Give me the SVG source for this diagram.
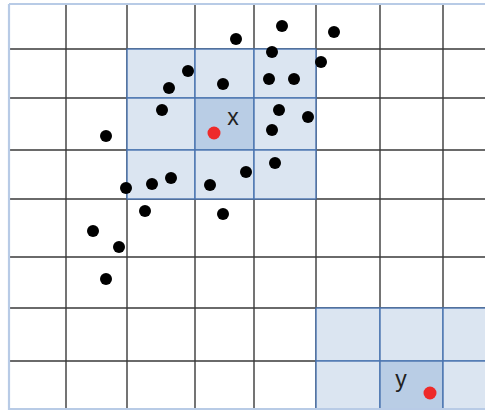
<svg xmlns="http://www.w3.org/2000/svg" width="485" height="414" viewBox="0 0 485 414">
<style>
.g{stroke:#3a3a3a;stroke-width:1.4;fill:none}
.lt{fill:#dbe5f1;stroke:#4a74b0;stroke-width:1.4}
.dk{fill:#b9cde5;stroke:#4a74b0;stroke-width:1.4}
.bd{stroke:#b8cbe6;stroke-width:2.2;fill:none}
.d{fill:#000}
.r{fill:#ee2a2a}
.t{font-family:"Liberation Sans",Arial,sans-serif;font-size:23px;fill:#222}
</style>
<rect width="485" height="414" fill="#fff"/>
<g id="grid">
<path class="g" d="M66 4V409M127 4V409M195 4V409M254 4V409M316 4V409M380 4V409M443 4V409M9 49H485M9 98H485M9 150H485M9 199H485M9 257H485M9 308H485M9 361H485"/>
</g>
<g id="neighbourhood-x">
<rect class="lt" x="127" y="49" width="68" height="49"/>
<rect class="lt" x="195" y="49" width="59" height="49"/>
<rect class="lt" x="254" y="49" width="62" height="49"/>
<rect class="lt" x="127" y="98" width="68" height="52"/>
<rect class="dk" x="195" y="98" width="59" height="52"/>
<rect class="lt" x="254" y="98" width="62" height="52"/>
<rect class="lt" x="127" y="150" width="68" height="49"/>
<rect class="lt" x="195" y="150" width="59" height="49"/>
<rect class="lt" x="254" y="150" width="62" height="49"/>
</g>
<g id="neighbourhood-y">
<rect class="lt" x="316" y="308" width="64" height="53"/>
<rect class="lt" x="380" y="308" width="63" height="53"/>
<rect class="lt" x="443" y="308" width="50" height="53"/>
<rect class="lt" x="316" y="361" width="64" height="48"/>
<rect class="dk" x="380" y="361" width="63" height="48"/>
<rect class="lt" x="443" y="361" width="50" height="48"/>
</g>
<g id="border">
<path class="bd" d="M9 4H485M9 4V409H485"/>
</g>
<g id="points">
<circle class="d" cx="282" cy="26" r="6"/>
<circle class="d" cx="334" cy="32" r="6"/>
<circle class="d" cx="236" cy="39" r="6"/>
<circle class="d" cx="272" cy="52" r="6"/>
<circle class="d" cx="321" cy="62" r="6"/>
<circle class="d" cx="188" cy="71" r="6"/>
<circle class="d" cx="269" cy="79" r="6"/>
<circle class="d" cx="294" cy="79" r="6"/>
<circle class="d" cx="169" cy="88" r="6"/>
<circle class="d" cx="223" cy="84" r="6"/>
<circle class="d" cx="162" cy="110" r="6"/>
<circle class="d" cx="279" cy="110" r="6"/>
<circle class="d" cx="308" cy="117" r="6"/>
<circle class="d" cx="106" cy="136" r="6"/>
<circle class="d" cx="272" cy="130" r="6"/>
<circle class="d" cx="275" cy="163" r="6"/>
<circle class="d" cx="246" cy="172" r="6"/>
<circle class="d" cx="126" cy="188" r="6"/>
<circle class="d" cx="152" cy="184" r="6"/>
<circle class="d" cx="171" cy="178" r="6"/>
<circle class="d" cx="210" cy="185" r="6"/>
<circle class="d" cx="145" cy="211" r="6"/>
<circle class="d" cx="223" cy="214" r="6"/>
<circle class="d" cx="93" cy="231" r="6"/>
<circle class="d" cx="119" cy="247" r="6"/>
<circle class="d" cx="106" cy="279" r="6"/>
</g>
<g id="x">
<circle class="r" cx="214" cy="133" r="6.5"/>
<text class="t" x="233" y="125" text-anchor="middle">x</text>
</g>
<g id="y">
<circle class="r" cx="430" cy="393" r="6.5"/>
<text class="t" x="401" y="387" text-anchor="middle">y</text>
</g>
</svg>
